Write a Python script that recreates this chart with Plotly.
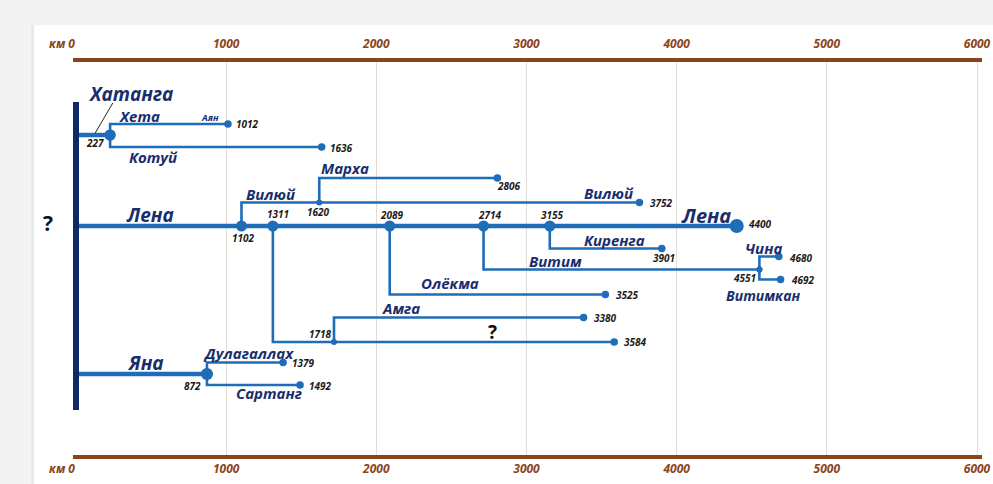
import plotly.graph_objects as go

# ---------------- data: distances along the river network from the common source, km ----------------
rivers   = ["Хатанга", "Хета", "Котуй", "Лена", "Вилюй", "Марха", "?", "Амга",
            "Олёкма", "Витим", "Чина", "Витимкан", "Киренга", "Яна", "Дулагаллах", "Сартанг"]
start_km = [0, 227, 227, 0, 1102, 1620, 1311, 1718, 2089, 2714, 4551, 4551, 3155, 0, 872, 872]
end_km   = [227, 1012, 1636, 4400, 3752, 2806, 3584, 3380, 3525, 4551, 4680, 4692, 3901, 872, 1379, 1492]
parent   = [None, "Хатанга", "Хатанга", None, "Лена", "Вилюй", "Лена", "?", "Лена", "Лена",
            "Витим", "Витим", "Лена", None, "Яна", "Яна"]
main_rivers = ["Хатанга", "Лена", "Яна"]

tick_km     = [0, 1000, 2000, 3000, 4000, 5000, 6000]
tick_labels = ["км 0", "1000", "2000", "3000", "4000", "5000", "6000"]

# ---------------- layout (positions / styles) ----------------
W, H = 993, 484
ROW = {"Хатанга": 135, "Хета": 124, "Котуй": 147, "Лена": 226, "Вилюй": 202.5, "Марха": 178,
       "?": 342, "Амга": 317.5, "Олёкма": 294.5, "Витим": 269.5, "Чина": 256.5,
       "Витимкан": 279.5, "Киренга": 248.5, "Яна": 374, "Дулагаллах": 362.5, "Сартанг": 385}
Y_TOP, Y_BOT = 62, 455          # plot-area rows in pixels (y axis expressed in pixel rows)
BAR_Y = (102, 410)              # vertical "source" bar
X_DOMAIN_PX = (73, 982)
KM_PER_PX = 6000 / 901.0
X_RANGE = [-(76 - X_DOMAIN_PX[0]) * KM_PER_PX, 6000 + (X_DOMAIN_PX[1] - 977) * KM_PER_PX]

BLUE = "#1f6cb8"
NAVY = "#1b2e6c"
BAR = "#0c2a66"
BROWN = "#8a4419"
FONT = "Open Sans"

fig = go.Figure()

# white sheet on grey page (with a faint left shadow)
shapes = [dict(type="rect", xref="paper", yref="paper", x0=31 / W, x1=34 / W, y0=0, y1=(H - 25) / H,
               fillcolor="#e9e9e9", line=dict(width=0), layer="below"),
          dict(type="rect", xref="paper", yref="paper", x0=34 / W, x1=1, y0=0, y1=(H - 25) / H,
               fillcolor="white", line=dict(width=0), layer="below")]

# river lines
for name, s, e, p in zip(rivers, start_km, end_km, parent):
    y = ROW[name]
    if p is None:
        xs, ys = [s, e], [y, y]
    else:
        xs, ys = [s, s, e], [ROW[p], y, y]
    fig.add_trace(go.Scatter(x=xs, y=ys, mode="lines", hoverinfo="skip", showlegend=False,
                             line=dict(color=BLUE, width=4.5 if name in main_rivers else 2.6)))

# vertical source bar
fig.add_trace(go.Scatter(x=[0, 0], y=list(BAR_Y), mode="lines", xaxis="x2", showlegend=False,
                         hoverinfo="skip", line=dict(color=BAR, width=6)))

# leader line for "Хатанга"
fig.add_trace(go.Scatter(x=[245, 128], y=[103, 133], mode="lines", showlegend=False, hoverinfo="skip",
                         line=dict(color="#222222", width=1)))

# dots
big_x, big_y, small_x, small_y, end_x, end_y = [], [], [], [], [], []
for name, s, e, p in zip(rivers, start_km, end_km, parent):
    if p is not None:
        if p in main_rivers:
            big_x.append(s); big_y.append(ROW[p])
        else:
            small_x.append(s); small_y.append(ROW[p])
        if name != "Витим":
            end_x.append(e); end_y.append(ROW[name])
li = rivers.index("Лена")
fig.add_trace(go.Scatter(x=big_x, y=big_y, mode="markers", showlegend=False, hoverinfo="skip",
                         marker=dict(color=BLUE, size=11, line=dict(width=0))))
fig.add_trace(go.Scatter(x=[end_km[li]], y=[ROW["Лена"]], mode="markers", showlegend=False,
                         hoverinfo="skip", marker=dict(color=BLUE, size=14, line=dict(width=0))))
fig.add_trace(go.Scatter(x=[end_km[rivers.index("Яна")]], y=[ROW["Яна"]], mode="markers", showlegend=False,
                         hoverinfo="skip", marker=dict(color=BLUE, size=12, line=dict(width=0))))
fig.add_trace(go.Scatter(x=small_x, y=small_y, mode="markers", showlegend=False, hoverinfo="skip",
                         marker=dict(color=BLUE, size=6, line=dict(width=0))))
fig.add_trace(go.Scatter(x=end_x, y=end_y, mode="markers", showlegend=False, hoverinfo="skip",
                         marker=dict(color=BLUE, size=7.5, line=dict(width=0))))

annotations = []

def txt(text, x, y, size, color, xanchor="center", xshift=0, xref="x", style="italic"):
    annotations.append(dict(text=text, x=x, y=y, xref=xref, yref="y", showarrow=False,
                            xanchor=xanchor, yanchor="middle", xshift=xshift, borderpad=0,
                            font=dict(family=FONT, size=size, color=color, weight="bold", style=style)))

# km number labels: (river, which end, xanchor, dx px, dy px)
num_labels = [
    ("Хатанга", "end", "center", -15, 8),
    ("Хета", "end", "left", 7, 0),
    ("Котуй", "end", "left", 7, 1),
    ("Лена", "end", "left", 10, -2),
    ("Вилюй", "start", "center", 2, 12),
    ("Вилюй", "end", "left", 10, 0),
    ("Марха", "start", "center", -1, 9.5),
    ("Марха", "end", "center", 12, 8),
    ("?", "start", "center", 5, -12),
    ("?", "end", "left", 9, 0),
    ("Амга", "start", "right", -1, -8),
    ("Амга", "end", "left", 9, 0.5),
    ("Олёкма", "start", "center", 2, -11),
    ("Олёкма", "end", "left", 10, 0),
    ("Витим", "start", "center", 6, -11),
    ("Витим", "end", "right", -2, 8.5),
    ("Чина", "end", "left", 9, 1),
    ("Витимкан", "end", "left", 9, 0),
    ("Киренга", "start", "center", 3, -11),
    ("Киренга", "end", "center", 2, 9),
    ("Яна", "end", "right", -5, 12),
    ("Дулагаллах", "end", "left", 8, 0.5),
    ("Сартанг", "end", "left", 8, 1),
]
for name, which, anchor, dx, dy in num_labels:
    i = rivers.index(name)
    if which == "start":
        km, y = start_km[i], ROW[parent[i]]
    else:
        km, y = end_km[i], ROW[name]
    txt(str(km), km, y + dy, 10, "#1a1a1a", anchor, dx)

# river names: (text, km position, row px, font size, colour)
name_labels = [
    ("Хатанга", 360, 94, 19, NAVY),
    ("Хета", 420, 115.5, 15, NAVY),
    ("Аян", 892, 117, 9, NAVY),
    ("Котуй", 513, 157, 15, NAVY),
    ("Марха", 1791, 167.5, 15, NAVY),
    ("Вилюй", 1299, 194, 15, NAVY),
    ("Вилюй", 3549, 193, 15, NAVY),
    ("Лена", 493, 215, 19, NAVY),
    ("Лена", 4195, 215, 20, NAVY),
    ("Киренга", 3589, 240, 15, NAVY),
    ("Витим", 3196, 261, 15, NAVY),
    ("Олёкма", 2491, 283, 15, NAVY),
    ("Чина", 4575, 247.5, 15, NAVY),
    ("Витимкан", 4575, 295, 14, NAVY),
    ("Амга", 2164, 308, 15, NAVY),
    ("Яна", 466, 363, 19, NAVY),
    ("Дулагаллах", 1149, 353, 15, NAVY),
    ("Сартанг", 1285, 393, 15, NAVY),
]
for t, x, y, s, c in name_labels:
    txt(t, x, y, s, c)
# question marks (upright, black)
txt("?", 2774, 332, 19, "#111111", style="normal")
txt("?", 47.5 / W, 223, 21, "#111111", xref="paper", style="normal")

pad = "\u00a0" * 9
ticktext = [tick_labels[0] + pad] + tick_labels[1:]
axis_common = dict(range=X_RANGE, domain=[X_DOMAIN_PX[0] / W, X_DOMAIN_PX[1] / W],
                   tickmode="array", tickvals=tick_km, ticktext=ticktext, ticks="",
                   showgrid=False, zeroline=False, showline=True, linecolor=BROWN, linewidth=4,
                   automargin=False,
                   tickfont=dict(family=FONT, size=12, color=BROWN, weight="bold", style="italic"),
                   fixedrange=True)
fig.update_layout(
    width=W, height=H, autosize=False,
    margin=dict(l=0, r=0, t=0, b=0, pad=0, autoexpand=False),
    paper_bgcolor="#f3f3f3", plot_bgcolor="white",
    showlegend=False,
    xaxis=dict(**axis_common, side="bottom", anchor="y",
               minor=dict(tickmode="array", tickvals=tick_km[1:], showgrid=True,
                          gridcolor="#e2dcd2", gridwidth=1, ticks="")),
    xaxis2=dict(**axis_common, side="top", anchor="y", overlaying="x", ticklabelstandoff=5),
    yaxis=dict(range=[Y_BOT, Y_TOP], domain=[(H - Y_BOT) / H, (H - Y_TOP) / H], automargin=False,
               showgrid=False, zeroline=False, showticklabels=False, showline=False, fixedrange=True),
    shapes=shapes,
    annotations=annotations,
)

fig.write_html("out.html", config={"responsive": False, "displayModeBar": False},
               post_script="document.body.style.margin='0';document.body.style.overflow='hidden';")
